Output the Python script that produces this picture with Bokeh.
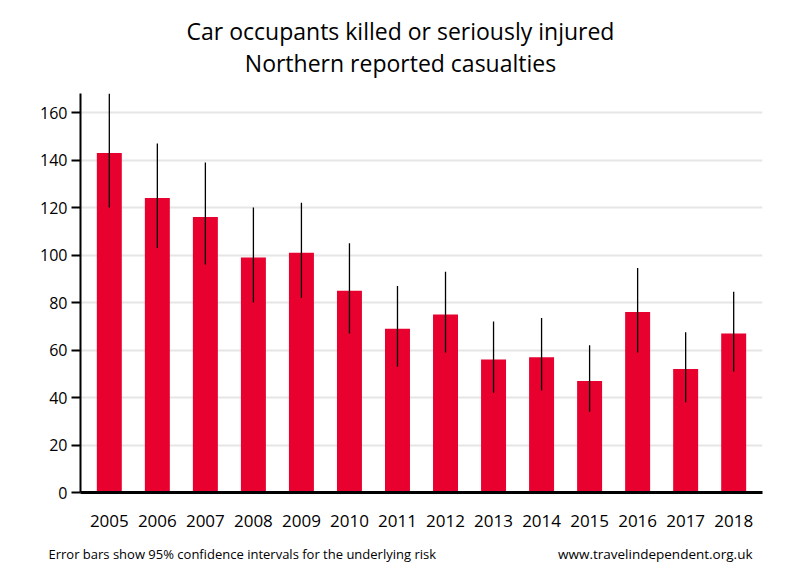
from bokeh.plotting import figure
from bokeh.layouts import column
from bokeh.models import Range1d, FixedTicker, ColumnDataSource
from bokeh.core.properties import value
from bokeh.embed import file_html
from bokeh.resources import INLINE

years = [2005, 2006, 2007, 2008, 2009, 2010, 2011, 2012, 2013, 2014, 2015, 2016, 2017, 2018]
values = [143, 124, 116, 99, 101, 85, 69, 75, 56, 57, 47, 76, 52, 67]
lower = [120, 103, 96, 80, 82, 67, 53, 59, 42, 43, 34, 59, 38, 51]
upper = [168, 147, 139, 120, 122, 105, 87, 93, 72, 73.5, 62, 94.5, 67.5, 84.5]
y_ticks = [0, 20, 40, 60, 80, 100, 120, 140, 160]

title_lines = ["Car occupants killed or seriously injured", "Northern reported casualties"]
footer_left = "Error bars show 95% confidence intervals for the underlying risk"
footer_right = "www.travelindependent.org.uk"

FONT = "Open Sans"
W = 784
FRAME_L, FRAME_R = 80, 762


def text_panel(height):
    f = figure(width=W, height=height, output_backend="svg", toolbar_location=None,
               x_range=Range1d(0, W), y_range=Range1d(height, 0),
               min_border=0, min_border_left=0, min_border_right=0,
               min_border_top=0, min_border_bottom=0)
    f.frame_align = False   # keep this panel's frame spanning its full width
    f.axis.visible = False
    f.grid.visible = False
    f.outline_line_color = None
    f.background_fill_color = "white"
    f.border_fill_color = "white"
    return f


# header with the two title lines
head = text_panel(80)
head.text(x=[400, 400], y=[30, 62], text=title_lines, text_align="center",
          text_baseline="middle", text_font=value(FONT), text_font_size="23px",
          text_color="black")

# main chart
src = ColumnDataSource(dict(x=years, top=values, lo=lower, hi=upper))
p = figure(width=W, height=460, output_backend="svg", toolbar_location=None,
           x_range=Range1d(2004.4, 2018.6), y_range=Range1d(0, 168))
p.frame_align = False
p.min_border_left = FRAME_L
p.min_border_right = W - FRAME_R
p.min_border_bottom = 48
p.min_border_top = 13
p.outline_line_color = None
p.background_fill_color = "white"
p.border_fill_color = "white"

p.vbar(x="x", top="top", width=0.52, bottom=0, source=src, fill_color="#E8002F", line_color=None)
p.segment(x0="x", x1="x", y0="lo", y1="hi", source=src, line_color="black", line_width=1.3)

p.xgrid.grid_line_color = None
p.ygrid.grid_line_color = "#e6e6e6"
p.ygrid.grid_line_width = 2
p.ygrid.ticker = FixedTicker(ticks=y_ticks[1:])

p.xaxis.ticker = FixedTicker(ticks=years)
p.yaxis.ticker = FixedTicker(ticks=y_ticks)
for ax in (p.xaxis[0], p.yaxis[0]):
    ax.minor_tick_line_color = None
    ax.axis_line_color = "black"
    ax.major_label_text_font = FONT
    ax.major_label_text_color = "black"
p.xaxis.major_tick_line_color = None
p.yaxis.major_tick_line_color = "black"
p.yaxis.major_tick_line_width = 2
p.yaxis.major_tick_in = 0
p.yaxis.major_tick_out = 9
p.xaxis.axis_line_width = 3
p.yaxis.axis_line_width = 2
p.xaxis.major_label_text_font_size = "17px"
p.yaxis.major_label_text_font_size = "16px"
p.xaxis.major_label_standoff = 16
p.yaxis.major_label_standoff = 4

# footer
foot = text_panel(30)
foot.text(x=[48], y=[13], text=[footer_left], text_align="left", text_baseline="middle",
          text_font=value(FONT), text_font_size="13px", text_color="black")
foot.text(x=[752], y=[13], text=[footer_right], text_align="right", text_baseline="middle",
          text_font=value(FONT), text_font_size="13.5px", text_color="black")

layout = column(head, p, foot, spacing=0)
open("out.html", "w").write(file_html(layout, INLINE))
